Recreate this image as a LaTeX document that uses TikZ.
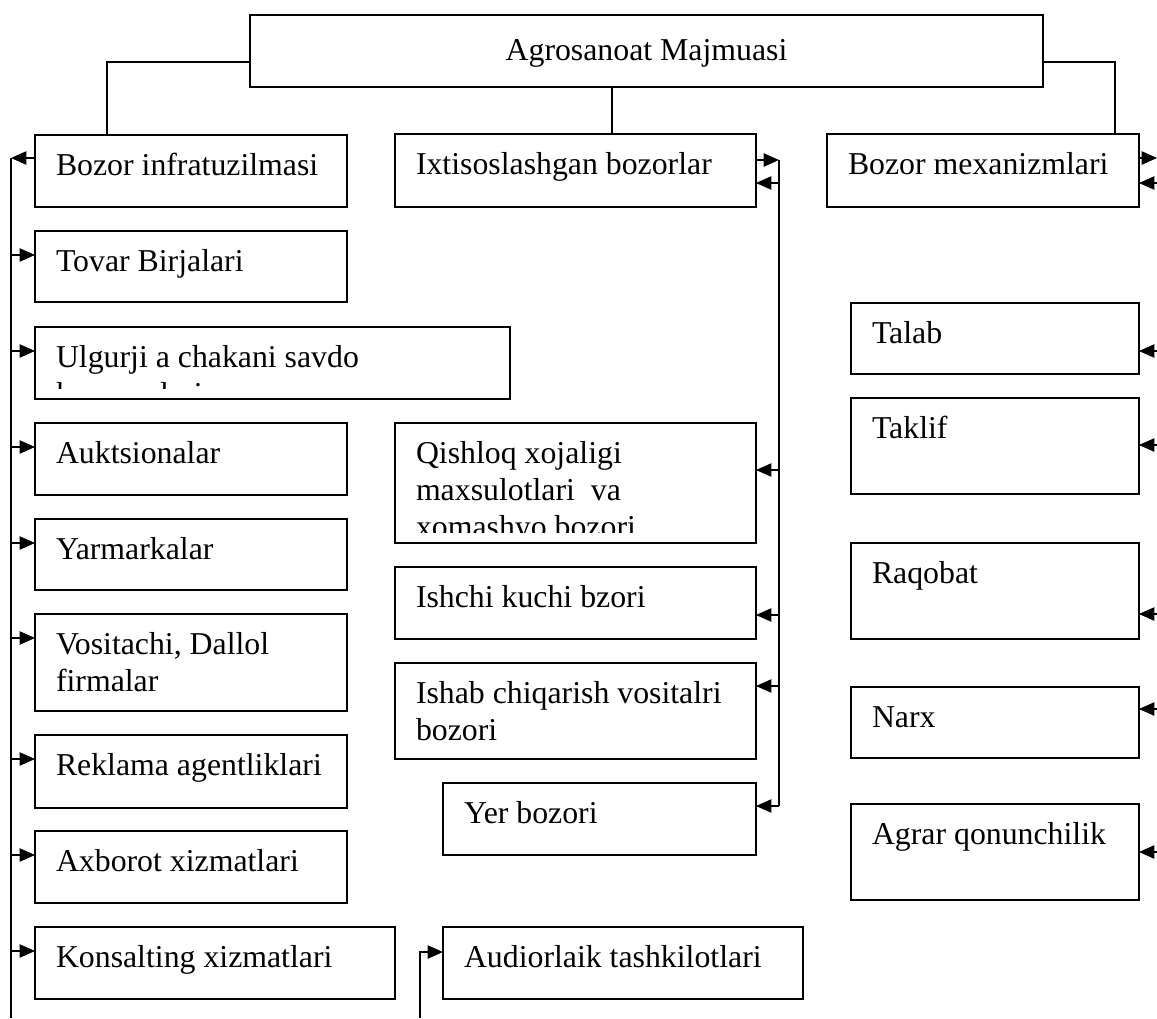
\documentclass[tikz,border=0pt]{standalone}
\usepackage{fontspec}
\setmainfont{Liberation Serif}
\usepackage{tikz}
\usetikzlibrary{arrows.meta}
\newcommand{\boxfont}{\fontsize{23.85}{27.6}\selectfont}
\tikzset{basic/.style={draw,line width=0.9pt,inner sep=0pt,outer sep=0pt,anchor=north west}}
\tikzset{block/.style={basic,path picture={
  \clip ([yshift=8pt]path picture bounding box.south west) rectangle (path picture bounding box.north east);
  \node [anchor=base west,inner sep=0pt] at ([xshift=15.75pt,yshift=-30.5pt]path picture bounding box.north west)
    {\parbox[t]{15cm}{\raggedright #1}};}}}

\begin{document}
\begin{tikzpicture}[x=0.75pt, y=-0.75pt, >={Triangle[length=11.5pt,width=10pt]}, line width=0.9pt, font=\boxfont]
\useasboundingbox (0,0) rectangle (1157,1018);

\node [basic, minimum width=793*0.75pt, minimum height=72*0.75pt, text depth=0.3ex] (agro) at (250,15) {Agrosanoat Majmuasi};

\foreach \n/\xa/\ya/\xb/\yb/\txt in {
  infra/35/135/347/207/{Bozor infratuzilmasi},
  tov/35/231/347/302/{Tovar Birjalari},
  ulg/35/327/510/399/{Ulgurji a chakani savdo\\korxonalari},
  auk/35/423/347/495/{Auktsionalar},
  yar/35/519/347/590/{Yarmarkalar},
  vos/35/614/347/711/{Vositachi, Dallol\\firmalar},
  rek/35/735/347/808/{Reklama agentliklari},
  axb/35/831/347/903/{Axborot xizmatlari},
  kon/35/927/395/999/{Konsalting xizmatlari},
  ixt/395/134/756/207/{Ixtisoslashgan bozorlar},
  qish/395/423/756/543/{Qishloq xojaligi\\maxsulotlari~~va\\xomashyo bozori},
  ishc/395/567/756/639/{Ishchi kuchi bzori},
  isha/395/663/756/759/{Ishab chiqarish vositalri\\bozori},
  yer/443/783/756/855/{Yer bozori},
  aud/443/927/803/999/{Audiorlaik tashkilotlari},
  mex/827/134/1139/207/{Bozor mexanizmlari},
  tal/851/303/1139/374/{Talab},
  tak/851/398/1139/494/{Taklif},
  raq/851/543/1139/639/{Raqobat},
  nar/851/687/1139/758/{Narx},
  agr/851/804/1139/900/{Agrar qonunchilik}}
\node [block=\txt, minimum width=(\xb-\xa)*0.75pt, minimum height=(\yb-\ya)*0.75pt] (\n) at (\xa,\ya) {};

% top links
\coordinate (ixt-up) at ([xshift=27.4pt]ixt.north);
\draw (agro.west) ++(0,11) -| ([xshift=54pt]infra.north west);
\draw (ixt-up) -- (ixt-up |- agro.south);
\draw (agro.east) ++(0,11) -| ([xshift=-18pt]mex.north east);

% left bus
\coordinate (ltop) at (11,158);
\coordinate (lbot) at (11,1018);
\draw [->] ([yshift=-17.25pt]infra.north west) -- (ltop);
\draw (ltop) -- (lbot);
\foreach \n in {tov,ulg,auk,yar,vos,rek,axb,kon} {
  \coordinate (\n-in) at ([yshift=-18pt]\n.north west);
  \draw [->] (\n-in -| ltop) -- (\n-in);
}

% middle bus
\coordinate (mtop) at (779,160);
\coordinate (mbot) at (779,806);
\draw [->] ([yshift=-19.5pt]ixt.north east) -- (mtop);
\draw (mtop) -- (mbot);
\foreach \n/\dy in {ixt/49,qish/47,ishc/48,isha/23,yer/23} {
  \coordinate (\n-in) at ([yshift=-\dy*0.75pt]\n.north east);
  \draw [->] (\n-in -| mtop) -- (\n-in);
}

% right side
\coordinate (rbus) at (1157,0);
\coordinate (mex-out) at ([yshift=-18pt]mex.north east);
\draw [->] (mex-out) -- (mex-out -| rbus);
\foreach \n/\dy in {mex/49,tal/48,tak/47,raq/71,nar/22,agr/48} {
  \coordinate (\n-in) at ([yshift=-\dy*0.75pt]\n.north east);
  \draw [->] (\n-in -| rbus) -- (\n-in);
}

% audit
\coordinate (abot) at (420,1018);
\coordinate (aud-in) at ([yshift=-18.75pt]aud.north west);
\draw [->] (abot) |- (aud-in);
\end{tikzpicture}
\end{document}
